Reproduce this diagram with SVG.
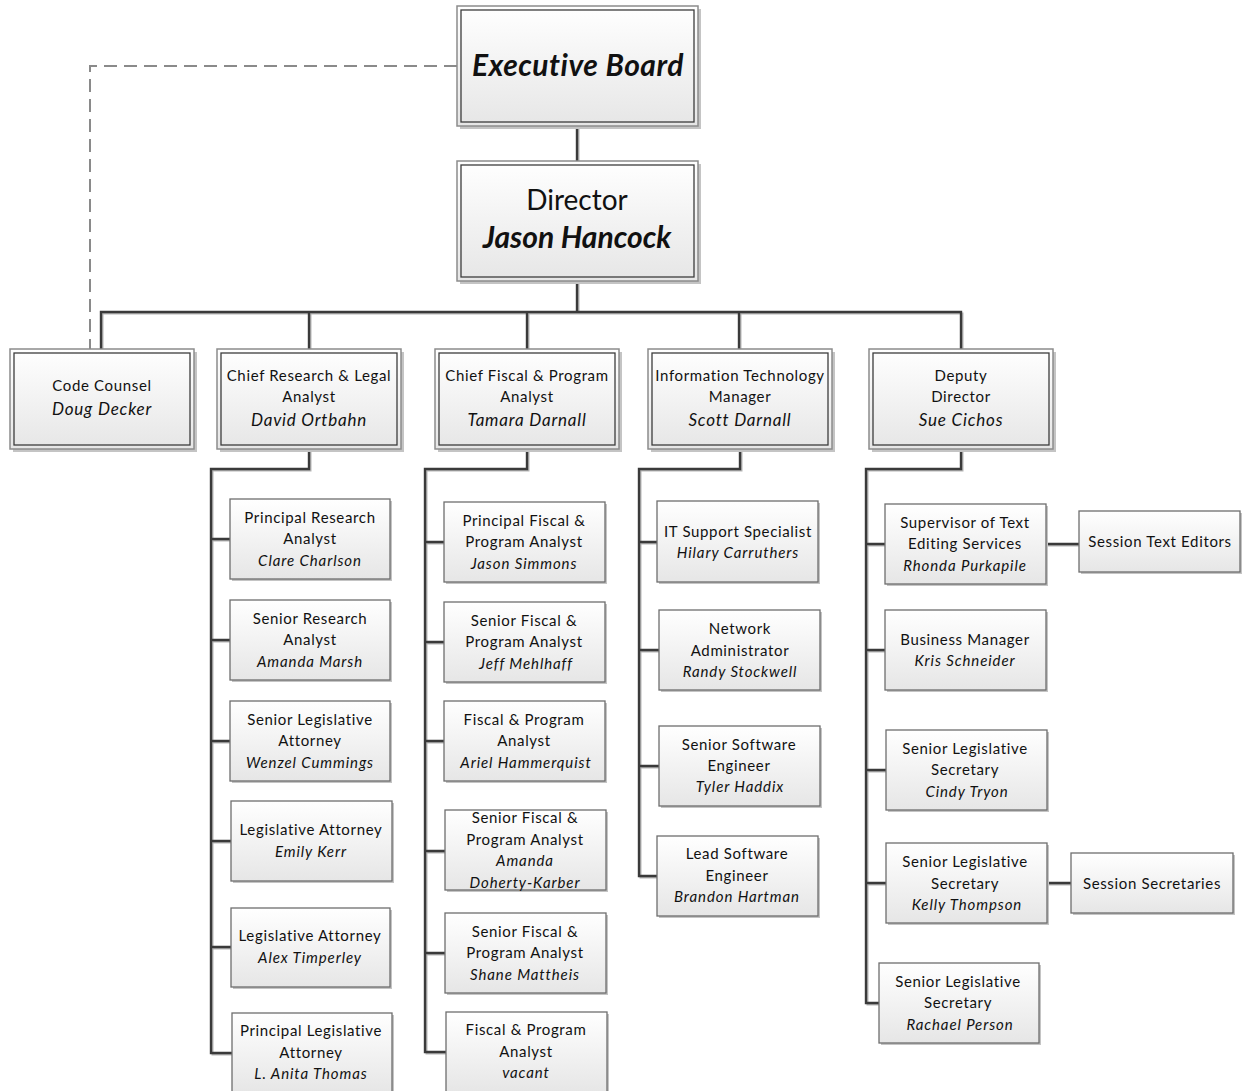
<svg xmlns="http://www.w3.org/2000/svg" width="1243" height="1091" viewBox="0 0 1243 1091">
<defs>
<linearGradient id="g" x1="0" y1="0" x2="0" y2="1">
<stop offset="0" stop-color="#ffffff"/>
<stop offset="1" stop-color="#e6e6e6"/>
</linearGradient>
</defs>
<style>
text{font-family:Lato,"Liberation Sans",sans-serif;fill:#111;text-anchor:middle}
.t{font-size:15px;letter-spacing:0.65px}
.n{font-size:15px;font-style:italic;letter-spacing:0.9px}
.n2{font-size:17px;font-style:italic;letter-spacing:0.8px}
.sh{fill:#c4c4c4}
.o{fill:url(#g);stroke:#8c8c8c;stroke-width:1.5}
.i{fill:none;stroke:#3c3c3c;stroke-width:1.3}
.b{fill:url(#g);stroke:#6e6e6e;stroke-width:1.3}
.c{fill:none;stroke:#3a3a3a;stroke-width:2.4}
.cs{fill:none;stroke:#b5b5b5;stroke-width:2}
.d{fill:none;stroke:#8a8a8a;stroke-width:2;stroke-dasharray:13 7}
</style>
<g id="connectors">
<path class="d" d="M457,66 H90 V349"/>
<g transform="translate(1.5,1.5)">
<path class="cs" d="M577,126 V161 M577,281 V312 M101,349 V312 H961 V349 M309,312 V349 M527,312 V349 M739,312 V349"/>
<path class="cs" d="M309,449 V469 H211 V1053 H232 M211,539 H230 M211,640 H230 M211,741 H230 M211,841 H231 M211,947 H231"/>
<path class="cs" d="M527,449 V469 H425 V1052 H446 M425,542 H444 M425,642 H444 M425,741 H444 M425,851 H445 M425,953 H445"/>
<path class="cs" d="M740,449 V469 H639 V876 H657 M639,542 H657 M639,650 H659 M639,766 H659"/>
<path class="cs" d="M961,449 V469 H866 V1003 H879 M866,544 H885 M866,650 H885 M866,770 H886 M866,883 H886 M1046,544 H1079 M1047,883 H1071"/>
</g>
<path class="c" d="M577,126 V161 M577,281 V312 M101,349 V312 H961 V349 M309,312 V349 M527,312 V349 M739,312 V349"/>
<path class="c" d="M309,449 V469 H211 V1053 H232 M211,539 H230 M211,640 H230 M211,741 H230 M211,841 H231 M211,947 H231"/>
<path class="c" d="M527,449 V469 H425 V1052 H446 M425,542 H444 M425,642 H444 M425,741 H444 M425,851 H445 M425,953 H445"/>
<path class="c" d="M740,449 V469 H639 V876 H657 M639,542 H657 M639,650 H659 M639,766 H659"/>
<path class="c" d="M961,449 V469 H866 V1003 H879 M866,544 H885 M866,650 H885 M866,770 H886 M866,883 H886 M1046,544 H1079 M1047,883 H1071"/>
</g>

<g id="executive-board">
<rect class="sh" x="460" y="9" width="241" height="120"/>
<rect class="o" x="457" y="6" width="241" height="120"/>
<rect class="i" x="461" y="10" width="233" height="112"/>
<text x="578" y="76" style="font-size:30px;font-weight:bold;font-style:italic;letter-spacing:0.5px">Executive Board</text>
</g>
<g id="director">
<rect class="sh" x="460" y="164" width="241" height="120"/>
<rect class="o" x="457" y="161" width="241" height="120"/>
<rect class="i" x="461" y="165" width="233" height="112"/>
<text x="577" y="210" style="font-size:28px">Director</text>
<text x="577" y="248" style="font-size:30px;font-weight:bold;font-style:italic">Jason Hancock</text>
</g>

<g id="code-counsel">
<rect class="sh" x="13" y="352" width="184" height="100"/>
<rect class="o" x="10" y="349" width="184" height="100"/>
<rect class="i" x="14" y="353" width="176" height="92"/>
<text class="t" x="102" y="391">Code Counsel</text>
<text class="n2" x="102" y="415">Doug Decker</text>
</g>
<g id="chief-research">
<rect class="sh" x="220" y="352" width="184" height="100"/>
<rect class="o" x="217" y="349" width="184" height="100"/>
<rect class="i" x="221" y="353" width="176" height="92"/>
<text class="t" x="309" y="381">Chief Research &amp; Legal</text>
<text class="t" x="309" y="402">Analyst</text>
<text class="n2" x="309" y="426">David Ortbahn</text>
</g>
<g id="chief-fiscal">
<rect class="sh" x="438" y="352" width="184" height="100"/>
<rect class="o" x="435" y="349" width="184" height="100"/>
<rect class="i" x="439" y="353" width="176" height="92"/>
<text class="t" x="527" y="381">Chief Fiscal &amp; Program</text>
<text class="t" x="527" y="402">Analyst</text>
<text class="n2" x="527" y="426">Tamara Darnall</text>
</g>
<g id="it-manager">
<rect class="sh" x="651" y="352" width="184" height="100"/>
<rect class="o" x="648" y="349" width="184" height="100"/>
<rect class="i" x="652" y="353" width="176" height="92"/>
<text class="t" x="740" y="381">Information Technology</text>
<text class="t" x="740" y="402">Manager</text>
<text class="n2" x="740" y="426">Scott Darnall</text>
</g>
<g id="deputy-director">
<rect class="sh" x="872" y="352" width="184" height="100"/>
<rect class="o" x="869" y="349" width="184" height="100"/>
<rect class="i" x="873" y="353" width="176" height="92"/>
<text class="t" x="961" y="381">Deputy</text>
<text class="t" x="961" y="402">Director</text>
<text class="n2" x="961" y="426">Sue Cichos</text>
</g>

<!-- Research column -->
<g id="principal-research">
<rect class="sh" x="232" y="501" width="160" height="80"/>
<rect class="b" x="230" y="499" width="160" height="80"/>
<text class="t" x="310" y="523">Principal Research</text>
<text class="t" x="310" y="544">Analyst</text>
<text class="n" x="310" y="566">Clare Charlson</text>
</g>
<g id="senior-research">
<rect class="sh" x="232" y="602" width="160" height="80"/>
<rect class="b" x="230" y="600" width="160" height="80"/>
<text class="t" x="310" y="624">Senior Research</text>
<text class="t" x="310" y="645">Analyst</text>
<text class="n" x="310" y="667">Amanda Marsh</text>
</g>
<g id="senior-legislative-attorney">
<rect class="sh" x="232" y="703" width="160" height="80"/>
<rect class="b" x="230" y="701" width="160" height="80"/>
<text class="t" x="310" y="725">Senior Legislative</text>
<text class="t" x="310" y="746">Attorney</text>
<text class="n" x="310" y="768">Wenzel Cummings</text>
</g>
<g id="legislative-attorney-kerr">
<rect class="sh" x="233" y="803" width="161" height="80"/>
<rect class="b" x="231" y="801" width="161" height="80"/>
<text class="t" x="311" y="835">Legislative Attorney</text>
<text class="n" x="311" y="857">Emily Kerr</text>
</g>
<g id="legislative-attorney-timperley">
<rect class="sh" x="233" y="910" width="159" height="79"/>
<rect class="b" x="231" y="908" width="159" height="79"/>
<text class="t" x="310" y="941">Legislative Attorney</text>
<text class="n" x="310" y="963">Alex Timperley</text>
</g>
<g id="principal-legislative-attorney">
<rect class="sh" x="234" y="1015" width="160" height="80"/>
<rect class="b" x="232" y="1013" width="160" height="80"/>
<text class="t" x="311" y="1036">Principal Legislative</text>
<text class="t" x="311" y="1058">Attorney</text>
<text class="n" x="311" y="1079">L. Anita Thomas</text>
</g>

<!-- Fiscal column -->
<g id="principal-fiscal">
<rect class="sh" x="446" y="504" width="161" height="80"/>
<rect class="b" x="444" y="502" width="161" height="80"/>
<text class="t" x="524" y="526">Principal Fiscal &amp;</text>
<text class="t" x="524" y="547">Program Analyst</text>
<text class="n" x="524" y="569">Jason Simmons</text>
</g>
<g id="senior-fiscal-mehlhaff">
<rect class="sh" x="446" y="604" width="161" height="80"/>
<rect class="b" x="444" y="602" width="161" height="80"/>
<text class="t" x="524" y="626">Senior Fiscal &amp;</text>
<text class="t" x="524" y="647">Program Analyst</text>
<text class="n" x="526" y="669">Jeff Mehlhaff</text>
</g>
<g id="fiscal-hammerquist">
<rect class="sh" x="446" y="703" width="161" height="80"/>
<rect class="b" x="444" y="701" width="161" height="80"/>
<text class="t" x="524" y="725">Fiscal &amp; Program</text>
<text class="t" x="524" y="746">Analyst</text>
<text class="n" x="526" y="768">Ariel Hammerquist</text>
</g>
<g id="senior-fiscal-doherty-karber">
<rect class="sh" x="447" y="812" width="161" height="80"/>
<rect class="b" x="445" y="810" width="161" height="80"/>
<text class="t" x="525" y="823">Senior Fiscal &amp;</text>
<text class="t" x="525" y="845">Program Analyst</text>
<text class="n" x="525" y="866">Amanda</text>
<text class="n" x="525" y="888">Doherty-Karber</text>
</g>
<g id="senior-fiscal-mattheis">
<rect class="sh" x="447" y="915" width="161" height="80"/>
<rect class="b" x="445" y="913" width="161" height="80"/>
<text class="t" x="525" y="937">Senior Fiscal &amp;</text>
<text class="t" x="525" y="958">Program Analyst</text>
<text class="n" x="525" y="980">Shane Mattheis</text>
</g>
<g id="fiscal-vacant">
<rect class="sh" x="448" y="1014" width="161" height="80"/>
<rect class="b" x="446" y="1012" width="161" height="80"/>
<text class="t" x="526" y="1035">Fiscal &amp; Program</text>
<text class="t" x="526" y="1057">Analyst</text>
<text class="n" x="526" y="1078">vacant</text>
</g>

<!-- IT column -->
<g id="it-support">
<rect class="sh" x="659" y="503" width="161" height="81"/>
<rect class="b" x="657" y="501" width="161" height="81"/>
<text class="t" x="738" y="537">IT Support Specialist</text>
<text class="n" x="738" y="558">Hilary Carruthers</text>
</g>
<g id="network-administrator">
<rect class="sh" x="661" y="612" width="161" height="80"/>
<rect class="b" x="659" y="610" width="161" height="80"/>
<text class="t" x="740" y="634">Network</text>
<text class="t" x="740" y="656">Administrator</text>
<text class="n" x="740" y="677">Randy Stockwell</text>
</g>
<g id="senior-software-engineer">
<rect class="sh" x="661" y="728" width="161" height="80"/>
<rect class="b" x="659" y="726" width="161" height="80"/>
<text class="t" x="739" y="750">Senior Software</text>
<text class="t" x="739" y="771">Engineer</text>
<text class="n" x="740" y="792">Tyler Haddix</text>
</g>
<g id="lead-software-engineer">
<rect class="sh" x="659" y="838" width="161" height="80"/>
<rect class="b" x="657" y="836" width="161" height="80"/>
<text class="t" x="737" y="859">Lead Software</text>
<text class="t" x="737" y="881">Engineer</text>
<text class="n" x="737" y="902">Brandon Hartman</text>
</g>

<!-- Deputy column -->
<g id="supervisor-text-editing">
<rect class="sh" x="887" y="506" width="161" height="80"/>
<rect class="b" x="885" y="504" width="161" height="80"/>
<text class="t" x="965" y="528">Supervisor of Text</text>
<text class="t" x="965" y="549">Editing Services</text>
<text class="n" x="965" y="571">Rhonda Purkapile</text>
</g>
<g id="session-text-editors">
<rect class="sh" x="1081" y="513" width="161" height="61"/>
<rect class="b" x="1079" y="511" width="161" height="61"/>
<text class="t" x="1160" y="547">Session Text Editors</text>
</g>
<g id="business-manager">
<rect class="sh" x="887" y="612" width="161" height="80"/>
<rect class="b" x="885" y="610" width="161" height="80"/>
<text class="t" x="965" y="645">Business Manager</text>
<text class="n" x="965" y="666">Kris Schneider</text>
</g>
<g id="secretary-tryon">
<rect class="sh" x="888" y="732" width="161" height="80"/>
<rect class="b" x="886" y="730" width="161" height="80"/>
<text class="t" x="965" y="754">Senior Legislative</text>
<text class="t" x="965" y="775">Secretary</text>
<text class="n" x="967" y="797">Cindy Tryon</text>
</g>
<g id="secretary-thompson">
<rect class="sh" x="888" y="845" width="161" height="80"/>
<rect class="b" x="886" y="843" width="161" height="80"/>
<text class="t" x="965" y="867">Senior Legislative</text>
<text class="t" x="965" y="889">Secretary</text>
<text class="n" x="967" y="910">Kelly Thompson</text>
</g>
<g id="session-secretaries">
<rect class="sh" x="1073" y="855" width="162" height="60"/>
<rect class="b" x="1071" y="853" width="162" height="60"/>
<text class="t" x="1152" y="889">Session Secretaries</text>
</g>
<g id="secretary-person">
<rect class="sh" x="881" y="965" width="160" height="80"/>
<rect class="b" x="879" y="963" width="160" height="80"/>
<text class="t" x="958" y="987">Senior Legislative</text>
<text class="t" x="958" y="1008">Secretary</text>
<text class="n" x="960" y="1030">Rachael Person</text>
</g>
</svg>
